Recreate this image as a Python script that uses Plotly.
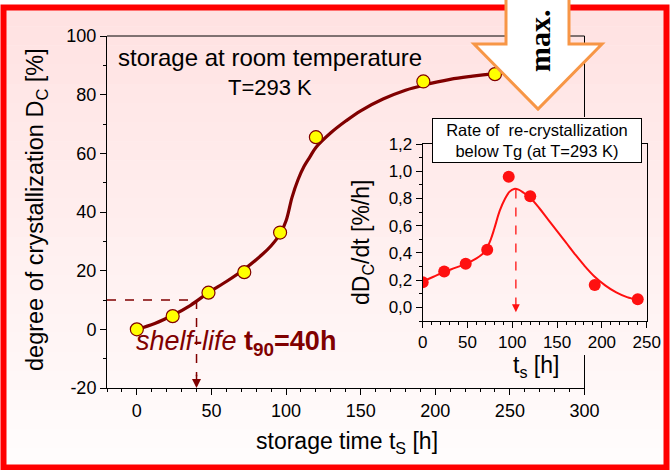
import plotly.graph_objects as go

W, H = 672, 470

# ---------------- data ----------------
time_h = [0, 24, 48, 72, 96, 120, 192, 240]
crystallization_pct = [0, 4.5, 12.5, 19.5, 33, 65.5, 84.5, 87]
rate_pct_per_h = [0.185, 0.263, 0.32, 0.424, 0.96, 0.816, 0.165, 0.059]

fit_t = [0, 12, 24, 36, 48, 60, 72, 84, 90, 96, 100, 104, 108, 112, 116, 120,
         130, 140, 150, 165, 180, 192, 210, 225, 240, 252]
fit_dc = [0, 2, 4.8, 8.2, 12.5, 16.3, 20.5, 25.5, 28.5, 32.5, 37, 45, 51, 55.5,
          58.8, 62, 67, 71, 74.5, 78.5, 81.5, 83.2, 85.2, 86.3, 87.2, 87.8]

rate_fit_t = [0, 12, 24, 36, 48, 60, 68, 72, 76, 80, 86, 92, 97, 102, 107, 113,
              120, 130, 140, 150, 160, 170, 180, 192, 204, 216, 228, 240]
rate_fit = [0.19, 0.225, 0.26, 0.29, 0.32, 0.36, 0.40, 0.44, 0.50, 0.58, 0.71,
            0.80, 0.85, 0.87, 0.865, 0.84, 0.805, 0.73, 0.645, 0.56, 0.475,
            0.39, 0.31, 0.225, 0.16, 0.11, 0.075, 0.055]

t90 = 40          # shelf-life [h]
dc_level = 10     # degree of crystallization at shelf-life [%]
peak_t = 104      # time of maximal rate [h]
peak_rate = 0.865

x_ticks = [0, 50, 100, 150, 200, 250, 300]
y_ticks = [-20, 0, 20, 40, 60, 80, 100]
inset_x_ticks = [0, 50, 100, 150, 200, 250]
inset_y_ticks = [0.0, 0.2, 0.4, 0.6, 0.8, 1.0, 1.2]

FONT = "Liberation Sans, Arial, sans-serif"
DARK = "#800000"
RED = "#ff1010"


def px(x):
    return x / W


def py(y):
    return 1 - y / H


fig = go.Figure()

fig.add_trace(go.Scatter(x=fit_t, y=fit_dc, mode="lines",
                         line=dict(color=DARK, width=3.2, shape="spline"),
                         xaxis="x", yaxis="y", hoverinfo="skip"))
fig.add_trace(go.Scatter(x=time_h, y=crystallization_pct, mode="markers",
                         marker=dict(size=13, color="#ffff00",
                                     line=dict(color=DARK, width=1.2)),
                         xaxis="x", yaxis="y"))
fig.add_trace(go.Scatter(x=rate_fit_t, y=rate_fit, mode="lines",
                         line=dict(color=RED, width=2, shape="spline"),
                         xaxis="x2", yaxis="y2", hoverinfo="skip"))
fig.add_trace(go.Scatter(x=time_h, y=rate_pct_per_h, mode="markers",
                         marker=dict(size=12, color=RED, line=dict(width=0)),
                         xaxis="x2", yaxis="y2"))

shapes = []
# gradient background
n = 24
top, bot = 7, 467
for i in range(n):
    f = i / (n - 1)
    g = int(round(226 + (252 - 226) * f))
    y0 = top + (bot - top) * i / n
    y1 = top + (bot - top) * (i + 1) / n
    shapes.append(dict(type="rect", xref="paper", yref="paper", layer="below",
                       x0=px(4), x1=px(668), y0=py(y1 + 0.5), y1=py(y0),
                       fillcolor=f"rgb(255,{g},{g})", line=dict(width=0)))
# red frame
shapes.append(dict(type="rect", xref="paper", yref="paper", layer="above",
                   x0=px(3.5), x1=px(666.5), y0=py(467.5), y1=py(7.5),
                   line=dict(color="#ff0000", width=6), fillcolor="rgba(0,0,0,0)"))
# main frame: top and right lines (right line hidden behind inset)
shapes.append(dict(type="line", xref="paper", yref="paper", layer="above",
                   x0=px(107), x1=px(584.5), y0=py(36), y1=py(36),
                   line=dict(color="black", width=1)))
shapes.append(dict(type="line", xref="paper", yref="paper", layer="above",
                   x0=px(584.5), x1=px(584.5), y0=py(36), y1=py(117),
                   line=dict(color="black", width=1)))
shapes.append(dict(type="line", xref="paper", yref="paper", layer="above",
                   x0=px(584.5), x1=px(584.5), y0=py(355), y1=py(388),
                   line=dict(color="black", width=1)))
# shelf-life guide lines
shapes.append(dict(type="line", xref="x", yref="y", x0=-20, x1=t90,
                   y0=dc_level, y1=dc_level,
                   line=dict(color=DARK, width=1.5, dash="dash")))
shapes.append(dict(type="line", xref="x", yref="y", x0=t90, x1=t90,
                   y0=dc_level, y1=-16,
                   line=dict(color=DARK, width=1.5, dash="dash")))
# inset max guide line
shapes.append(dict(type="line", xref="x2", yref="y2", x0=peak_t, x1=peak_t,
                   y0=peak_rate, y1=0.0,
                   line=dict(color=RED, width=1.3, dash="dash")))
# big "max." arrow
pts = [(506, -8), (569, -8), (569, 44), (602, 44), (538, 109), (474, 44), (506, 44)]
path = "M " + " L ".join(f"{px(x):.5f},{py(y):.5f}" for x, y in pts) + " Z"
shapes.append(dict(type="path", xref="paper", yref="paper", layer="above",
                   path=path, fillcolor="white",
                   line=dict(color="#f79646", width=3)))


def label(x, y, text, size=23, color="black", angle=0, family=FONT, **kw):
    d = dict(x=px(x), y=py(y), xref="paper", yref="paper", text=text,
             showarrow=False, xanchor="center", yanchor="middle",
             textangle=angle, font=dict(family=family, size=size, color=color))
    d.update(kw)
    return d


annotations = [
    label(270, 58, "storage at room temperature", 24),
    label(270, 87, "T=293 K", 22),
    label(134, 343, "<i>shelf-life</i> <b>t<sub>90</sub>=40h</b>", 27, DARK,
          xanchor="left"),
    label(36, 210, "degree of crystallization D<sub>C</sub> [%]", 23.5, angle=-90),
    label(347, 442, "storage time t<sub>S</sub> [h]", 23),
    label(362, 243, "dD<sub>C</sub>/dt [%/h]", 23, angle=-90),
    label(536, 366, "t<sub>s</sub> [h]", 23),
    label(536.5, 140.5, "Rate of  re-crystallization<br>below Tg (at T=293 K)",
          16.5, bgcolor="white", bordercolor="black", borderwidth=1,
          borderpad=2, width=204),
    label(540, 41, "<b>max.</b>", 30, angle=-90,
          family="Liberation Serif, Times New Roman, serif"),
    # arrow heads
    dict(x=t90, y=-20, ax=t90, ay=-15, xref="x", yref="y", axref="x", ayref="y",
         text="", showarrow=True, arrowhead=2, arrowsize=1.2, arrowwidth=1.5,
         arrowcolor=DARK, standoff=0),
    dict(x=peak_t, y=-0.035, ax=peak_t, ay=0.01, xref="x2", yref="y2",
         axref="x2", ayref="y2", text="", showarrow=True, arrowhead=2,
         arrowsize=1.2, arrowwidth=1.3, arrowcolor=RED, standoff=0),
]

axis_common = dict(showgrid=False, zeroline=False, showline=True,
                   linecolor="black", linewidth=1, ticks="outside",
                   tickcolor="black", ticklen=6, tickwidth=1,
                   tickfont=dict(family=FONT, size=18, color="black"))
inset_common = {**axis_common, "tickfont": dict(family=FONT, size=17, color="black")}

fig.update_layout(
    width=W, height=H,
    margin=dict(l=0, r=0, t=0, b=0, autoexpand=False),
    paper_bgcolor="white", plot_bgcolor="rgba(0,0,0,0)",
    showlegend=False,
    separators=", ",
    xaxis=dict(domain=[px(107), px(584.5)], range=[-20, 300], anchor="y",
               tickvals=x_ticks,
               minor=dict(dtick=10, tick0=0, ticks="outside", ticklen=3,
                          tickcolor="black"),
               **axis_common),
    yaxis=dict(domain=[py(388), py(36)], range=[-20, 100], anchor="x",
               tickvals=y_ticks, ticktext=[str(v) for v in y_ticks],
               minor=dict(dtick=10, tick0=0, ticks="outside", ticklen=3,
                          tickcolor="black"),
               **axis_common),
    xaxis2=dict(domain=[px(422.7), px(646.7)], range=[0, 250], anchor="y2",
                tickvals=inset_x_ticks, mirror=True,
                minor=dict(dtick=10, tick0=0, ticks="outside", ticklen=3,
                           tickcolor="black"),
                **inset_common),
    yaxis2=dict(domain=[py(321), py(144)], range=[-0.1, 1.2], anchor="x2",
                tickvals=inset_y_ticks, tickformat=".1f", mirror=True,
                minor=dict(dtick=0.1, tick0=0, ticks="outside", ticklen=3,
                           tickcolor="black"),
                **inset_common),
    shapes=shapes,
    annotations=annotations,
)

fig.write_html("out.html", config={"displayModeBar": False},
               post_script="document.body.style.margin='0';"
                           "document.body.style.overflow='hidden';")
